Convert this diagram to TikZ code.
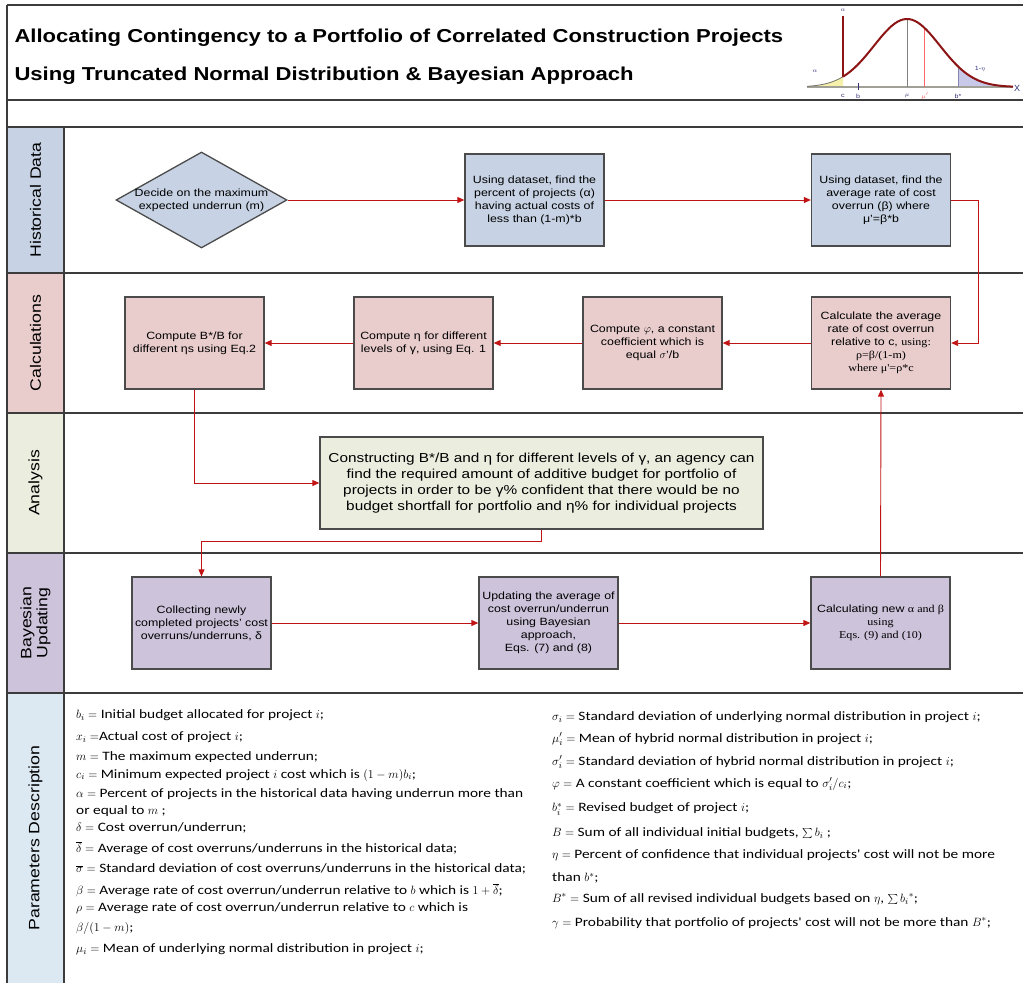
\documentclass[tikz,border=0pt]{standalone}
\usepackage{fontspec}
\setmainfont{Liberation Sans}[FakeStretch=1.18]
\newfontfamily\carl{Carlito}[FakeStretch=1.2]
\newfontfamily\tms{Liberation Serif}[FakeStretch=1.15]
\newfontfamily\plainsans{Liberation Sans}
\usetikzlibrary{shapes.geometric,arrows.meta}
\definecolor{bordergrey}{RGB}{75,75,75}
\definecolor{laneline}{RGB}{60,60,60}
\definecolor{arrowred}{RGB}{192,20,20}
\definecolor{histfill}{RGB}{199,211,228}
\definecolor{calcfill}{RGB}{233,204,204}
\definecolor{anafill}{RGB}{235,238,223}
\definecolor{bayfill}{RGB}{205,196,220}
\definecolor{parfill}{RGB}{220,232,242}
\definecolor{curvered}{RGB}{140,20,20}
\definecolor{axisgrey}{RGB}{160,160,150}
\definecolor{yellowfill}{RGB}{245,240,170}
\definecolor{bluefill}{RGB}{200,200,232}
\definecolor{lblblue}{RGB}{50,50,120}
\tikzset{
  proc/.style={draw=bordergrey, line width=1.3pt, minimum width=139pt, minimum height=92pt,
    inner sep=2pt, align=center, font=\fontsize{10.5}{13}\selectfont},
  arr/.style={draw=arrowred, line width=0.9pt, -{Triangle[length=7pt,width=6pt]}},
  lanelbl/.style={rotate=90, font=\fontsize{15}{17}\selectfont, align=center},
  partext/.style={anchor=west, inner sep=0pt, font=\carl\fontsize{12.8}{14}\selectfont},
  smalllbl/.style={font=\fontsize{6}{7}\selectfont, text=lblblue, inner sep=0pt}
}
\begin{document}
\begin{tikzpicture}[x=1pt,y=-1pt]
\useasboundingbox (0,0) rectangle (1023,983);
% label column fills
\fill[histfill] (7,127) rectangle (64,273);
\fill[calcfill] (7,273) rectangle (64,413);
\fill[anafill] (7,413) rectangle (64,553);
\fill[bayfill] (7,553) rectangle (64,693);
\fill[parfill] (7,693) rectangle (64,983);
% frame lines
\draw[laneline, line width=1.3pt] (7,5) -- (1023,5);
\draw[laneline, line width=1.3pt] (7,5) -- (7,983);
\draw[laneline, line width=1.3pt] (64,127) -- (64,983);
\foreach \yy in {100,127,273,413,553,693}
  \draw[laneline, line width=1.3pt] (7,\yy) -- (1023,\yy);
% title
\node[anchor=west, font=\bfseries\fontsize{18.7}{20}\selectfont] (t1) at (11,38) {Allocating Contingency to a Portfolio of Correlated Construction Projects};
\node[anchor=west, font=\bfseries\fontsize{18.7}{20}\selectfont] (t2) at (11,76) {Using Truncated Normal Distribution \& Bayesian Approach};
% normal curve picture
\fill[yellowfill] (807,87) -- plot[domain=807:843,samples=20] (\x,{87-68*exp(-0.5*((\x-907)/33)^2)}) -- (843,87) -- cycle;
\fill[bluefill] (958,87) -- plot[domain=958:1013,samples=30] (\x,{87-68*exp(-0.5*((\x-907)/33)^2)}) -- (1013,87) -- cycle;
\draw[axisgrey, line width=2.2pt] (807,87) -- (1013,87);
\draw[axisgrey!70!black, line width=0.8pt] plot[domain=807:843,samples=20] (\x,{87-68*exp(-0.5*((\x-907)/33)^2)});
\draw[gray, line width=0.6pt] (907,19) -- (907,87);
\draw[red!60, line width=0.6pt] (924,28) -- (924,87);
\draw[lblblue!60, line width=0.6pt] (958,66) -- (958,87);
\draw[lblblue, line width=0.6pt] (858,83) -- (858,90);
\draw[curvered, line width=2pt] plot[domain=843:1013,samples=60] (\x,{87-68*exp(-0.5*((\x-907)/33)^2)});
\draw[curvered, line width=1.4pt] (843,16) -- (843,77);
\node[smalllbl] (la0) at (843,10) {$\alpha$};
\node[smalllbl] (la1) at (815,71) {$\alpha$};
\node[smalllbl] (leta) at (980,69) {1-$\eta$};
\node[font=\plainsans\fontsize{9}{10}\selectfont, text=lblblue, inner sep=0pt] (lx) at (1017,88) {X};
\node[smalllbl] (lc) at (843,96) {c};
\node[smalllbl] (lb) at (858,96) {b};
\node[smalllbl] (lmu) at (907,96) {$\mu$};
\node[smalllbl, text=red!70] (lmup) at (925,96) {$\mu'$};
\node[smalllbl] (lbs) at (958,96) {b*};
% lane labels
\node[lanelbl] (lh) at (35.5,200) {Historical Data};
\node[lanelbl] (lcalc) at (35.5,343) {Calculations};
\node[lanelbl] (lana) at (35.5,483) {Analysis};
\node[lanelbl, font=\fontsize{15}{16}\selectfont] (lbay) at (35.5,623) {Bayesian\\Updating};
\node[lanelbl] (lpar) at (35.5,838) {Parameters Description};
% historical
\node[diamond, draw=bordergrey, line width=1.3pt, fill=histfill, minimum width=171pt, minimum height=96pt, inner sep=0pt, aspect=1.78] (dec) at (201.5,200) {};
\node[align=center, font=\fontsize{10.5}{13}\selectfont] (dectxt) at (201.5,200) {Decide on the maximum\\expected underrun (m)};
\node[proc, fill=histfill] (h2) at (534.5,200) {Using dataset, find the\\percent of projects (α)\\having actual costs of\\less than (1-m)*b};
\node[proc, fill=histfill] (h3) at (881,200) {Using dataset, find the\\average rate of cost\\overrun (β) where\\μ'=β*b};
% calculations
\node[proc, fill=calcfill] (cA) at (194.5,343) {Compute B*/B for\\different ηs using Eq.2};
\node[proc, fill=calcfill] (cB) at (423.5,343) {Compute η for different\\levels of γ, using Eq. 1};
\node[proc, fill=calcfill] (cC) at (652.5,343) {Compute $\varphi$, a constant\\coefficient which is\\equal $\sigma$'/b};
\node[proc, fill=calcfill] (cD) at (881,343) {Calculate the average\\rate of cost overrun\\relative to c, {\tms using:}\\{\tms ρ=β/(1-m)}\\{\tms where μ'=ρ*c}};
% analysis
\node[proc, fill=anafill, minimum width=443pt, font=\fontsize{13}{16}\selectfont] (ana) at (541.5,483) {Constructing B*/B and η for different levels of γ, an agency can\\find the required amount of additive budget for portfolio of\\projects in order to be γ\% confident that there would be no\\budget shortfall for portfolio and η\% for individual projects};
% bayesian
\node[proc, fill=bayfill] (b1) at (201.5,623) {Collecting newly\\completed projects' cost\\overruns/underruns, δ};
\node[proc, fill=bayfill] (b2) at (548.5,623) {Updating the average of\\cost overrun/underrun\\using Bayesian\\approach,\\Eqs. (7) and (8)};
\node[proc, fill=bayfill] (b3) at (880.5,623) {Calculating new {\tms α and β}\\{\tms using}\\{\tms Eqs. (9) and (10)}};
% connectors
\draw[arr] (dec.east) -- (h2.west);
\draw[arr] (h2.east) -- (h3.west);
\coordinate (r1) at (978,200);
\draw[arr] (h3.east) -- (r1) |- (cD.east);
\draw[arr] (cD.west) -- (cC.east);
\draw[arr] (cC.west) -- (cB.east);
\draw[arr] (cB.west) -- (cA.east);
\draw[arr] (cA.south) |- (ana.west);
\draw[arr] (ana.south) -- ++(0,12) -| (b1.north);
\draw[arr] (b1.east) -- (b2.west);
\draw[arr] (b2.east) -- (b3.west);
\draw[arr] (b3.north) -- (cD.south);
% parameters left
\node[partext] (p1) at (76,715) {$b_i =$ Initial budget allocated for project $i$;};
\node[partext] (p2) at (76,737) {$x_i =$Actual cost of project $i$;};
\node[partext] (p3) at (76,757) {$m =$ The maximum expected underrun;};
\node[partext] (p4) at (76,775) {$c_i =$ Minimum expected project $i$ cost which is $(1-m)b_i$;};
\node[partext] (p5) at (76,794) {$\alpha =$ Percent of projects in the historical data having underrun more than};
\node[partext] (p6) at (76,811) {or equal to $m$ ;};
\node[partext] (p7) at (76,828) {$\delta =$ Cost overrun/underrun;};
\node[partext] (p8) at (76,848) {$\overline{\delta} =$ Average of cost overruns/underruns in the historical data;};
\node[partext] (p9) at (76,869) {$\overline{\sigma} =$ Standard deviation of cost overruns/underruns in the historical data;};
\node[partext] (p10) at (76,890) {$\beta =$ Average rate of cost overrun/underrun relative to $b$ which is $1+\overline{\delta}$;};
\node[partext] (p11) at (76,908) {$\rho =$ Average rate of cost overrun/underrun relative to $c$ which is};
\node[partext] (p12) at (76,928) {$\beta/(1-m)$;};
\node[partext] (p13) at (76,949) {$\mu_i =$ Mean of underlying normal distribution in project $i$;};
% parameters right
\node[partext] (q1) at (552,717) {$\sigma_i =$ Standard deviation of underlying normal distribution in project $i$;};
\node[partext] (q2) at (552,739) {$\mu_i' =$ Mean of hybrid normal distribution in project $i$;};
\node[partext] (q3) at (552,762) {$\sigma_i' =$ Standard deviation of hybrid normal distribution in project $i$;};
\node[partext] (q4) at (552,784) {$\varphi =$ A constant coefficient which is equal to $\sigma_i'/c_i$;};
\node[partext] (q5) at (552,809) {$b_i^{*} =$ Revised budget of project $i$;};
\node[partext] (q6) at (552,833) {$B =$ Sum of all individual initial budgets, $\sum b_i$ ;};
\node[partext] (q7) at (552,855) {$\eta =$ Percent of confidence that individual projects' cost will not be more};
\node[partext] (q8) at (552,878) {than $b^{*}$;};
\node[partext] (q9) at (552,899) {$B^{*} =$ Sum of all revised individual budgets based on $\eta$, $\sum b_i{}^{*}$;};
\node[partext] (q10) at (552,923) {$\gamma =$ Probability that portfolio of projects' cost will not be more than $B^{*}$;};
\end{tikzpicture}
\end{document}
